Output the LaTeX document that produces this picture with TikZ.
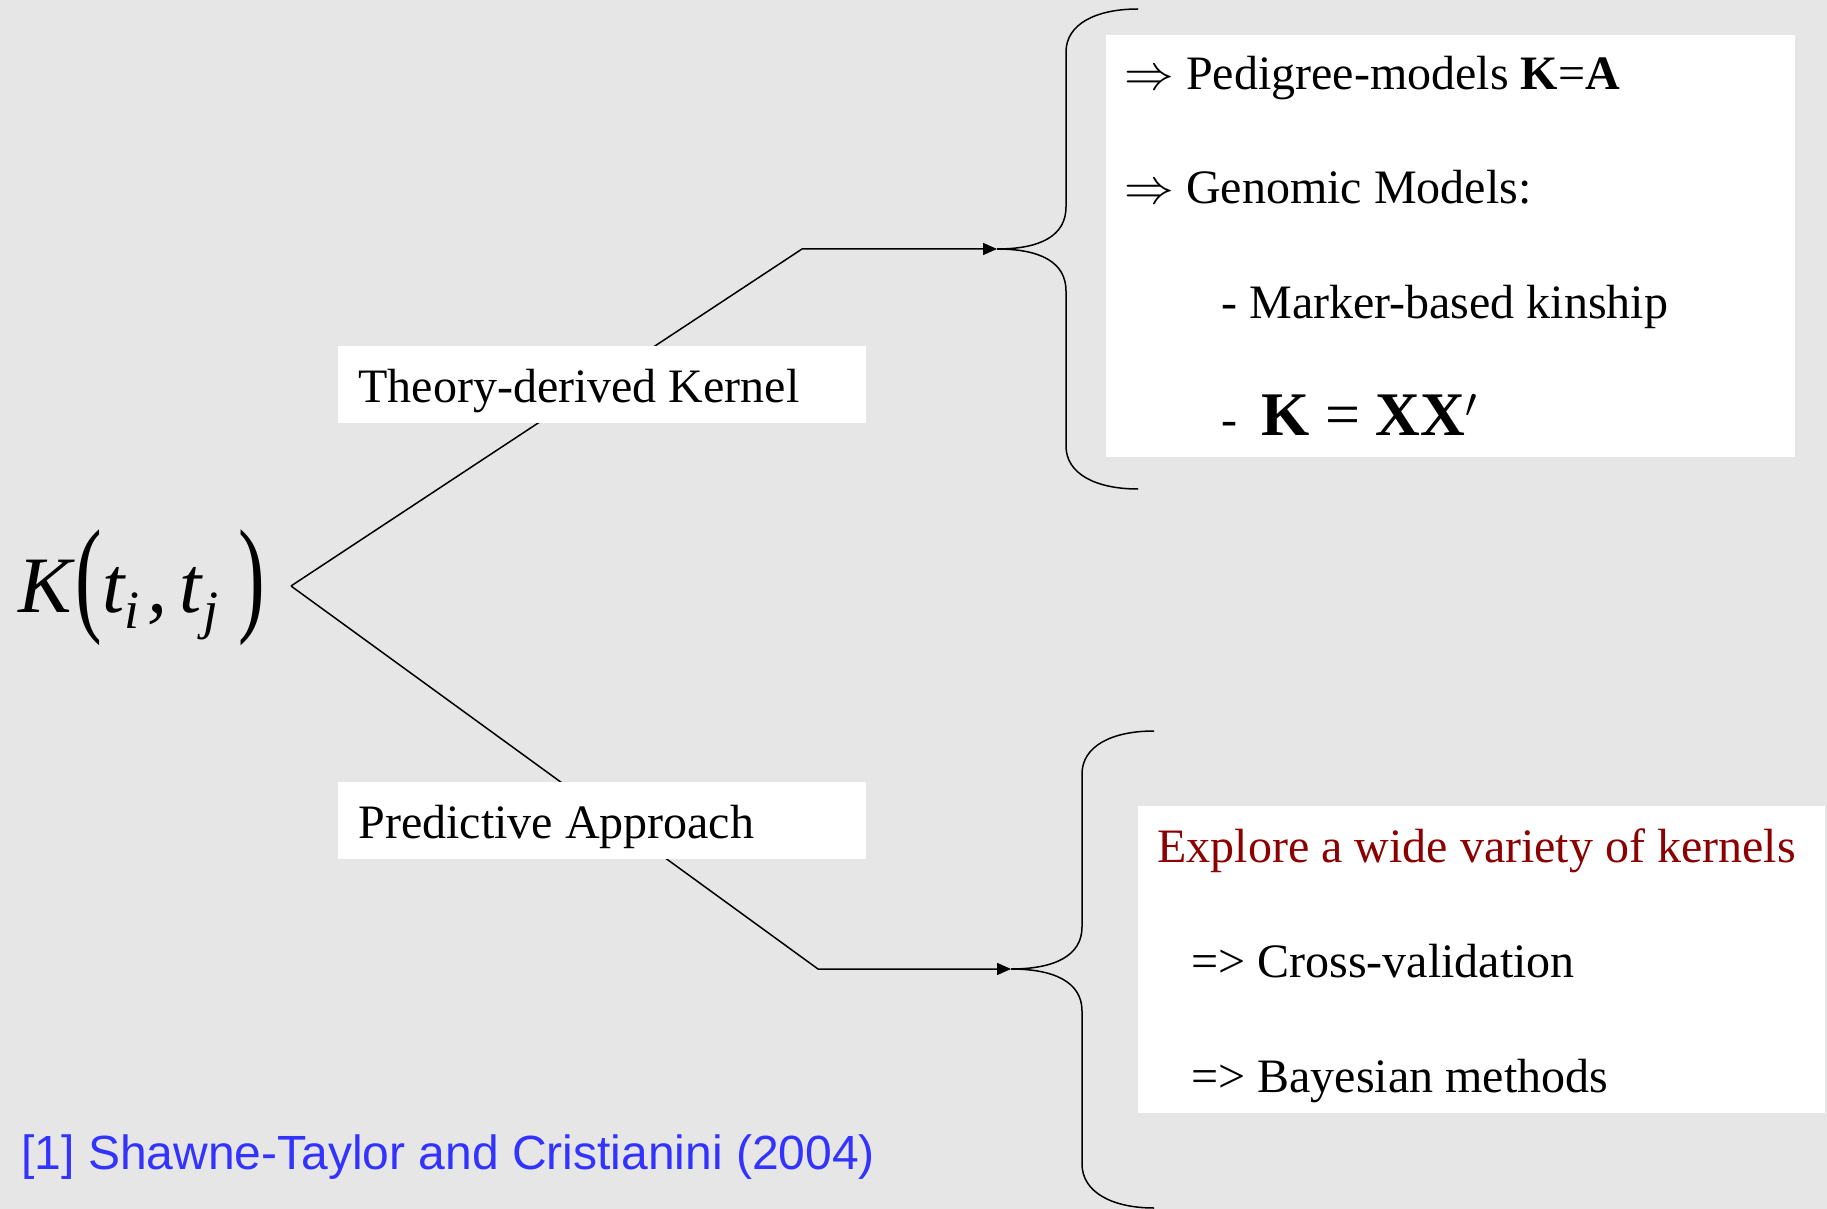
\documentclass[tikz,border=0pt]{standalone}
\usepackage{fontspec}
\setmainfont{Liberation Serif}
\newfontfamily\citefont{Liberation Sans}
\usepackage{graphicx}
\usetikzlibrary{arrows.meta, positioning}
\definecolor{slideBg}{HTML}{E6E6E6}
\definecolor{slideRed}{HTML}{8B0000}
\definecolor{slideBlue}{HTML}{3333FF}

\tikzset{
  branch/.style={draw=black, line width=0.75pt, line join=miter},
  tipArrow/.style={branch, -{Triangle[length=7pt,width=6pt]}},
  brace/.style={draw=black, line width=0.75pt},
  whitebox/.style={fill=white, draw=none, inner sep=0pt, anchor=north west},
  labelbox/.style={whitebox, minimum width=264pt, minimum height=38.5pt,
                   text width=244pt, inner xsep=10pt, align=flush left,
                   text height=17.5pt, text depth=0pt,
                   font=\fontsize{24}{28}\selectfont},
  item/.style={anchor=base west, inner sep=0pt, font=\fontsize{24}{28}\selectfont},
}

\begin{document}
\begin{tikzpicture}[x=0.5pt, y=-0.5pt]
  \fill[slideBg] (0,0) rectangle (1827,1209);
  \useasboundingbox (0,0) rectangle (1827,1209);

  % kernel expression
  \node[anchor=base west, inner sep=0pt, font=\fontsize{40}{48}\selectfont\itshape] (kernel) at (18,612)
    {K\kern2pt\raisebox{-3pt}{\upshape\scalebox{1}[1.6]{(}}t\raisebox{-8pt}{\fontsize{27}{30}\selectfont i}\kern4pt,\kern6pt t\kern1pt\raisebox{-8pt}{\fontsize{27}{30}\selectfont j}\kern10pt\raisebox{-3pt}{\upshape\scalebox{1}[1.6]{)}}};

  \coordinate (fork) at (291,586);
  \coordinate (upcorner) at (802,249);
  \coordinate (uptip) at (997,249);
  \coordinate (lowcorner) at (818,969);
  \coordinate (lowtip) at (1011,969);

  % branches
  \draw[tipArrow] (fork) -- (upcorner) -- (uptip);
  \draw[tipArrow] (fork) -- (lowcorner) -- (lowtip);

  % braces
  \draw[brace] (1138,9) .. controls (1096,9) and (1066,24) .. (1066,52) -- (1066,207)
    .. controls (1066,236) and (1040,249) .. (uptip)
    .. controls (1040,249) and (1066,262) .. (1066,291) -- (1066,446)
    .. controls (1066,474) and (1096,489) .. (1138,489);
  \draw[brace] (1154,731) .. controls (1112,731) and (1082,746) .. (1082,774) -- (1082,927)
    .. controls (1082,956) and (1054,969) .. (lowtip)
    .. controls (1054,969) and (1082,982) .. (1082,1011) -- (1082,1164)
    .. controls (1082,1192) and (1112,1208) .. (1154,1208);

  % branch labels
  \node[labelbox] (theory) at (338,346) {Theory-derived Kernel};
  \node[labelbox] (predict) at (338,782) {Predictive Approach};

  % upper list
  \node[whitebox, minimum width=344.3pt, minimum height=210.9pt] (kinbox) at (1106,35) {};
  \node[item] (pedigree) at (1124,90) {$\Rightarrow$ Pedigree-models \textbf{K}=\textbf{A}};
  \node[item] (genomic) at (1124,204) {$\Rightarrow$ Genomic Models:};
  \node[item] (marker) at (1221,319) {- Marker-based kinship};
  \node[item] (kxx) at (1221,436) {- \kern6pt{\fontsize{31}{34}\selectfont\textbf{K} = \textbf{XX}$'$}};

  % lower list
  \node[whitebox, minimum width=343.5pt, minimum height=153.5pt] (explbox) at (1138,806) {};
  \node[item, text=slideRed] (explore) at (1157,862) {Explore a wide variety of kernels};
  \node[item] (crossval) at (1191,977) {=> Cross-validation};
  \node[item] (bayes) at (1191,1092) {=> Bayesian methods};

  % reference
  \node[item, font=\fontsize{24}{28}\selectfont\citefont, text=slideBlue] (cite) at (21,1169)
    {[1] Shawne-Taylor and Cristianini (2004)};
\end{tikzpicture}
\end{document}
